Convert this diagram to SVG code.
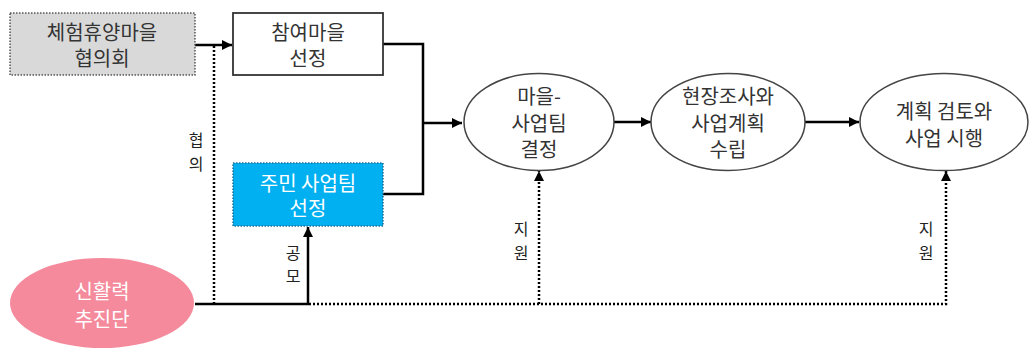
<svg xmlns="http://www.w3.org/2000/svg" width="1031" height="349" viewBox="0 0 1031 349">
<style>
text{font-family:"Noto Sans CJK KR","Noto Sans",sans-serif;text-anchor:middle;dominant-baseline:central}
.lbl{font-size:20px;fill:#333}
.wlbl{font-size:20px;fill:#fff}
.vl{font-size:16px;fill:#222}
.solid{fill:none;stroke:#000;stroke-width:2.5}
.dot{fill:none;stroke:#000;stroke-width:2.5;stroke-dasharray:2 2}
.ell{fill:#fff;stroke:#444;stroke-width:1.5}
</style>
<defs>
<marker id="ah" viewBox="0 0 10 10" refX="10" refY="5" markerWidth="4" markerHeight="4" orient="auto" markerUnits="strokeWidth">
<path d="M0,0L10,5L0,10z" fill="#000"/>
</marker>
</defs>
<g id="connectors">
<path class="solid" d="M195,45H232" marker-end="url(#ah)"/>
<path class="dot" d="M214,46V304"/>
<path class="solid" d="M383,44H423V194H383"/>
<path class="solid" d="M423,123H462" marker-end="url(#ah)"/>
<path class="solid" d="M614,122H651" marker-end="url(#ah)"/>
<path class="solid" d="M805,122H859" marker-end="url(#ah)"/>
<path class="solid" d="M195,304H308V227" marker-end="url(#ah)"/>
<path class="dot" d="M309,304H946V171" marker-end="url(#ah)"/>
<path class="dot" d="M539,304V171" marker-end="url(#ah)"/>
<text class="vl" x="196" y="139">협</text>
<text class="vl" x="196" y="163">의</text>
<text class="vl" x="293" y="252">공</text>
<text class="vl" x="293" y="275">모</text>
<text class="vl" x="521" y="228">지</text>
<text class="vl" x="521" y="252">원</text>
<text class="vl" x="926" y="228">지</text>
<text class="vl" x="926" y="252">원</text>
</g>
<g id="node-council">
<rect x="10" y="13" width="185" height="62" fill="#d9d9d9" stroke="#555" stroke-width="1.5" stroke-dasharray="1.5 1.5"/>
<text class="lbl" x="102" y="31">체험휴양마을</text>
<text class="lbl" x="102" y="57">협의회</text>
</g>
<g id="node-village">
<rect x="233" y="13" width="150" height="62" fill="#fff" stroke="#333" stroke-width="1.8"/>
<text class="lbl" x="308" y="31">참여마을</text>
<text class="lbl" x="308" y="57">선정</text>
</g>
<g id="node-resident">
<rect x="233" y="163" width="150" height="63" fill="#00b0f0" stroke="#1f6f9a" stroke-width="1.5" stroke-dasharray="1.5 1.5"/>
<text class="wlbl" x="308" y="182">주민 사업팀</text>
<text class="wlbl" x="308" y="207">선정</text>
</g>
<g id="node-team">
<ellipse class="ell" cx="539" cy="122" rx="75" ry="48.5"/>
<text class="lbl" x="539" y="95">마을-</text>
<text class="lbl" x="539" y="122">사업팀</text>
<text class="lbl" x="539" y="148">결정</text>
</g>
<g id="node-survey">
<ellipse class="ell" cx="728" cy="122" rx="77" ry="48.5"/>
<text class="lbl" x="728" y="95">현장조사와</text>
<text class="lbl" x="728" y="122">사업계획</text>
<text class="lbl" x="728" y="148">수립</text>
</g>
<g id="node-exec">
<ellipse class="ell" cx="944" cy="122" rx="84" ry="48.5"/>
<text class="lbl" x="944" y="110">계획 검토와</text>
<text class="lbl" x="944" y="137">사업 시행</text>
</g>
<g id="node-promo">
<ellipse cx="102" cy="303" rx="92" ry="45" fill="#f48a9c"/>
<text class="wlbl" x="102" y="290">신활력</text>
<text class="wlbl" x="102" y="318">추진단</text>
</g>
</svg>
